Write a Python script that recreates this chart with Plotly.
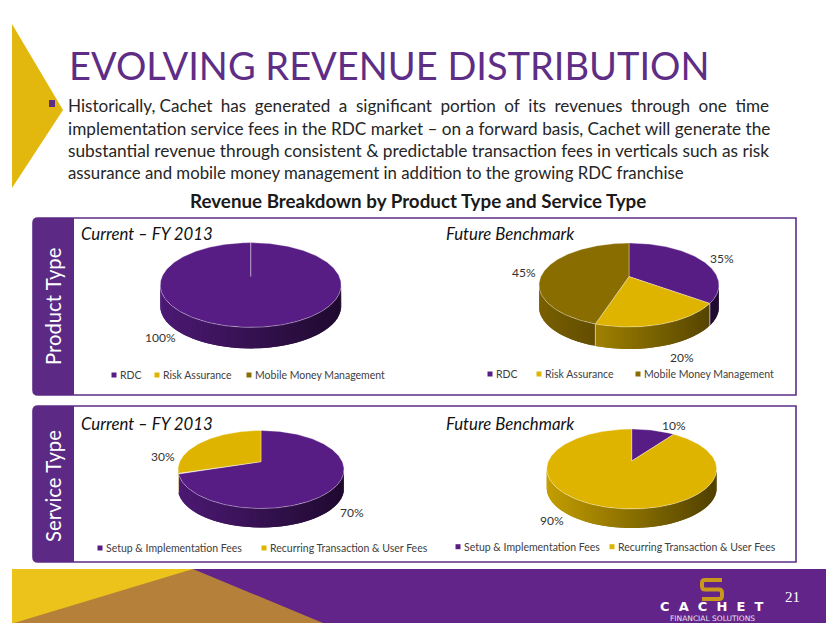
import numpy as np
import plotly.graph_objects as go

# ---------- data ----------
product_labels = ["RDC", "Risk Assurance", "Mobile Money Management"]
service_labels = ["Setup & Implementation Fees", "Recurring Transaction & User Fees"]
product_current = [100, 0, 0]
product_future = [35, 20, 45]
service_current = [70, 30]
service_future = [10, 90]
chart_titles = ["Current – FY 2013", "Future Benchmark"]
title_text = "EVOLVING REVENUE DISTRIBUTION"
heading_text = "Revenue Breakdown by Product Type and Service Type"
body_lines = [
    "Historically,\u2005Cachet\u2005\u2005has\u2005\u2005generated\u2005\u2005a\u2005\u2005significant\u2005\u2005portion\u2005\u2005of\u2005\u2005its\u2005\u2005revenues\u2005\u2005through\u2005\u2005one\u2005\u2005time",
    "implementation service fees in the RDC market – on a forward basis, Cachet will generate the",
    "substantial revenue through consistent & predictable transaction fees in verticals such as risk",
    "assurance and mobile money management in addition to the growing RDC franchise",
]

# ---------- style ----------
PURPLE, GOLD, OLIVE = "#571d84", "#dfb400", "#8a6d00"
slice_colors = [PURPLE, GOLD, OLIVE]
FONT = "Lato"
BORDER = "#5e2d86"
TILT = 0.2  # how far the perspective lifts the pie's centre on its top face


def shade(hex_color, f):
    r, g, b = (int(hex_color[i:i + 2], 16) for i in (1, 3, 5))
    return f"rgb({int(r * f)},{int(g * f)},{int(b * f)})"


fig = go.Figure()
shapes, notes = [], []


def text(x, y, s, size, color="#262626", anchor="left", **kw):
    notes.append(dict(x=x, y=y, xref="x", yref="y", text=s, showarrow=False, xanchor=anchor,
                      yanchor="middle", align="left",
                      font=dict(family=kw.pop("family", FONT), size=size, color=color), **kw))


def project(th, r, cx, cy, rx, ry):
    """Perspective view of a circular pie: angle th (clockwise from top), radius r."""
    u, v = r * np.sin(th), r * np.cos(th)
    w = 1 + TILT * v
    return cx + rx * u * np.sqrt(1 - TILT ** 2) / w, cy - ry * (v + TILT) / w


def pie3d(values, cx, cy, rx, ry, depth):
    """Tilted pie with a side wall; every angle comes from the values."""
    total = sum(values)
    ang = 0.0
    spans = []
    for i, v in enumerate(values):
        if v <= 0:
            continue
        a1 = ang + 360.0 * v / total
        spans.append((ang, a1, slice_colors[i]))
        ang = a1
    front0 = np.degrees(np.arccos(-TILT))
    front1 = 360 - front0
    # side wall, drawn as thin overlapping shaded strips on the front part
    for a0, a1, col in spans:
        lo, hi = max(a0, front0), min(a1, front1)
        if hi <= lo:
            continue
        n = max(2, int((hi - lo) / 2) + 1)
        edges = np.radians(np.linspace(lo, hi, n + 1))
        for k in range(n):
            th = np.linspace(edges[k], edges[min(k + 2, n)], 4)
            xs, ys = project(th, 1.0, cx, cy, rx, ry)
            t = (xs[:2].mean() - (cx - rx)) / (2 * rx)
            c = shade(col, 0.88 - 0.52 * t)
            fig.add_trace(go.Scatter(
                x=np.r_[xs, xs[::-1], xs[0]],
                y=np.r_[ys, ys[::-1] + depth, ys[0]],
                mode="lines", fill="toself", fillcolor=c, line=dict(color=c, width=0),
                hoverinfo="skip", showlegend=False))
    # pale seams where a slice wall ends
    for a0, a1, col in spans:
        if front0 < a1 < front1:
            xe, ye = project(np.radians(a1), 1.0, cx, cy, rx, ry)
            fig.add_trace(go.Scatter(x=[xe, xe], y=[ye, ye + depth], mode="lines",
                                     line=dict(color="rgba(255,255,255,0.6)", width=1),
                                     hoverinfo="skip", showlegend=False))
    # top face
    x0, y0 = project(0.0, 0.0, cx, cy, rx, ry)
    for a0, a1, col in spans:
        th = np.radians(np.linspace(a0, a1, max(3, int(a1 - a0) + 1)))
        xa, ya = project(th, 1.0, cx, cy, rx, ry)
        fig.add_trace(go.Scatter(x=np.r_[x0, xa, x0], y=np.r_[y0, ya, y0], mode="lines",
                                 fill="toself", fillcolor=col,
                                 line=dict(color="rgba(255,255,255,0.45)", width=0.8),
                                 hoverinfo="skip", showlegend=False))


def legend(labels, colors, marks, y, size=10.5):
    for lab, col, mx in zip(labels, colors, marks):
        fig.add_trace(go.Scatter(x=[mx], y=[y], mode="markers",
                                 marker=dict(symbol="square", size=5, color=col),
                                 hoverinfo="skip", showlegend=False))
        text(mx + 4, y, lab.replace("&", "&amp;"), size, "#404040")


def panel(y0, y1, label, label_y):
    shapes.append(dict(type="path", xref="x", yref="y",
                       path=f"M 38 {y0} L 796 {y0} L 796 {y1} L 38 {y1} Q 33 {y1} 33 {y1 - 5} "
                            f"L 33 {y0 + 5} Q 33 {y0} 38 {y0} Z",
                       fillcolor="white", line=dict(color=BORDER, width=1.6), layer="below"))
    shapes.append(dict(type="path", xref="x", yref="y",
                       path=f"M 38 {y0} L 74 {y0} L 74 {y1} L 38 {y1} Q 33 {y1} 33 {y1 - 5} "
                            f"L 33 {y0 + 5} Q 33 {y0} 38 {y0} Z",
                       fillcolor="#5c2a85", line=dict(width=0), layer="below"))
    text(53, label_y, label, 20.3, "white", "center", textangle=-90)


def poly(points, color):
    p = "M " + " L ".join(f"{a} {b}" for a, b in points) + " Z"
    shapes.append(dict(type="path", xref="x", yref="y", path=p, fillcolor=color,
                       line=dict(width=0), layer="below"))


# ---------- slide furniture ----------
poly([(12, 24), (63, 110), (12, 188)], "#e2b80f")
poly([(12, 569), (826, 569), (826, 623), (12, 623)], "#63248a")
poly([(12, 569), (193, 569), (323, 623), (12, 623)], "#b5813a")
poly([(12, 569), (193, 569), (14, 623), (12, 623)], "#ecc31a")
panel(218, 395, "Product Type", 307)
panel(406, 562, "Service Type", 486)

text(67, 65, title_text, 38, "#5e2d86")
poly([(49, 100), (55, 100), (55, 107), (49, 107)], "#5e2d86")
for s, y, size in zip(body_lines, [105.5, 128, 150, 172], [17.1, 17.2, 17.3, 16.8]):
    text(66, y, s.replace("&", "&amp;"), size, "#262626")
text(418, 200.5, "<b>" + heading_text + "</b>", 18.8, "#1a1a1a", "center")

# ---------- pies ----------
pie3d(product_current, 250.7, 285, 90.5, 42.4, 21)
pie3d(product_future, 629, 285, 90, 42, 22)
pie3d(service_current, 261, 469.5, 83, 39, 19)
pie3d(service_future, 631.7, 469, 85, 40, 19)

for x, y, s in [(79, 233.5, chart_titles[0]), (444, 233.5, chart_titles[1]),
                (79, 423.5, chart_titles[0]), (444, 423.5, chart_titles[1])]:
    text(x, y, f"<i>{s}</i>", 16.8, "#111111")

for x, y, v in [(160, 337, product_current[0]), (722, 258, product_future[0]),
                (682, 357, product_future[1]), (524, 272, product_future[2]),
                (352, 512, service_current[0]), (163, 456, service_current[1]),
                (674, 425, service_future[0]), (552, 520, service_future[1])]:
    text(x, y, f"{v}%", 12, "#333333", "center")

legend(product_labels, slice_colors, [114, 157, 249], 375)
legend(product_labels, slice_colors, [490, 539, 638], 374)
legend(service_labels, slice_colors, [100, 264], 548)
legend(service_labels, slice_colors, [458, 612], 546.7)

# ---------- footer ----------
shapes.append(dict(type="path", xref="x", yref="y",
                   path="M 722 580 L 705 580 Q 702 580 702 583 L 702 586 Q 702 589.5 705 589.5 L 719 589.5 "
                        "Q 722 589.5 722 593 L 722 596 Q 722 599 719 599 L 702 599",
                   line=dict(color="#c8981c", width=4)))
text(711.5, 606, "<b>C\u2002\u2009A\u2002\u2009C\u2002\u2009H\u2002\u2009E\u2002\u2009T</b>", 13, "white", "center",
     family="DejaVu Sans")
text(712, 618.5, "FINANCIAL SOLUTIONS", 7.5, "#e8e0f0", "center", family="DejaVu Sans")
text(792, 597, "21", 15, "white", "center", family="Liberation Serif")

fig.update_layout(
    width=835, height=635, margin=dict(l=0, r=0, t=0, b=0),
    paper_bgcolor="white", plot_bgcolor="white", shapes=shapes, annotations=notes,
    xaxis=dict(range=[0, 835], visible=False, fixedrange=True),
    yaxis=dict(range=[635, 0], visible=False, fixedrange=True),
    showlegend=False,
)
fig.write_html("out.html", config={"displayModeBar": False},
               post_script="document.body.style.margin='0';")
